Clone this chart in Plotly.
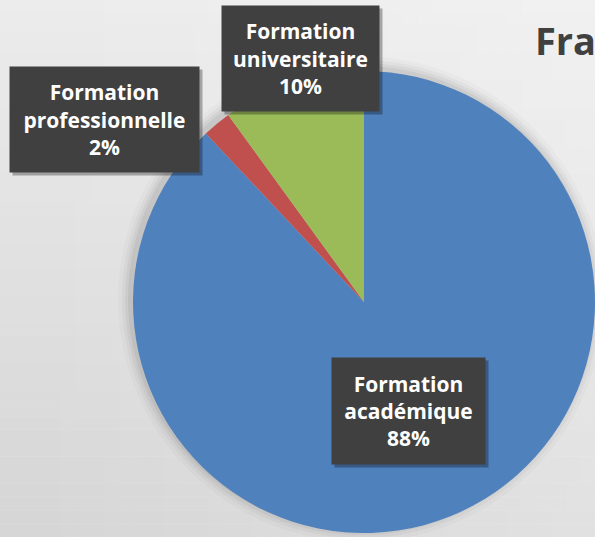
import plotly.graph_objects as go

# data
categories = ["Formation académique", "Formation professionnelle", "Formation universitaire"]
shares = [88, 2, 10]
colors = ["#4F81BD", "#C0504D", "#9BBB59"]
title_text = "Fra"

W, H = 595, 537

# label boxes: centre (px), width, height
box_pos = [(408, 411, 151, 104), (104, 119, 187, 103), (300, 58, 155, 103)]


def px(x):
    return x / W


def py(y):
    return 1 - y / H


fig = go.Figure()
fig.add_trace(
    go.Pie(
        labels=categories,
        values=shares,
        sort=False,
        direction="clockwise",
        rotation=0,
        marker=dict(colors=colors, line=dict(width=0)),
        textinfo="none",
        hoverinfo="skip",
        showlegend=False,
        domain=dict(x=[px(133), 1.0], y=[py(535), py(69)]),
    )
)

shapes = []
# background gradient: darker toward bottom-left, lighter toward top-right
n = 40
for i in range(n):
    t = i / (n - 1)
    g = int(236 - 22 * t)
    shapes.append(dict(type="rect", xref="paper", yref="paper", x0=0, x1=1,
                       y0=1 - (i + 1) / n, y1=1 - i / n, layer="below",
                       line=dict(width=0), fillcolor=f"rgb({g},{g},{g})"))
for i in range(n):
    shapes.append(dict(type="rect", xref="paper", yref="paper", x0=i / n, x1=(i + 1) / n,
                       y0=0, y1=1, layer="below", line=dict(width=0),
                       fillcolor=f"rgba(255,255,255,{0.28 * i / (n - 1):.3f})"))

# soft shadow under the pie
cx, cy, r = 364, 302, 231
for k, op in [(12, 0.02), (8, 0.03), (5, 0.04), (2, 0.05)]:
    shapes.append(dict(type="circle", xref="paper", yref="paper", layer="below",
                       xsizemode="pixel", ysizemode="pixel",
                       xanchor=px(cx - 3), yanchor=py(cy - 3),
                       x0=-(r + k), x1=r + k, y0=-(r + k), y1=r + k,
                       line=dict(width=0), fillcolor=f"rgba(0,0,0,{op})"))

annotations = []
for name, val, (bx, by, bw, bh) in zip(categories, shares, box_pos):
    text = name.replace(" ", "<br>") + f"<br>{val}%"
    common = dict(xref="paper", yref="paper", x=px(bx), y=py(by), showarrow=False,
                  xanchor="center", yanchor="middle",
                  width=bw, height=bh, align="center", valign="middle",
                  font=dict(family="Open Sans", size=21, color="white", weight="bold"))
    # drop shadow box (no text)
    s = dict(common)
    s.update(xshift=3, yshift=-3, bgcolor="rgba(0,0,0,0.30)", text=" ")
    annotations.append(s)
    annotations.append(dict(common, text=text, bgcolor="#404040"))

annotations.append(dict(xref="paper", yref="paper", x=px(533), y=py(12),
                        xanchor="left", yanchor="top", showarrow=False, text=title_text,
                        font=dict(family="Open Sans", size=38, color="#404040", weight="bold")))

fig.update_layout(
    width=W,
    height=H,
    margin=dict(l=0, r=0, t=0, b=0),
    paper_bgcolor="#e4e4e4",
    plot_bgcolor="#e4e4e4",
    shapes=shapes,
    annotations=annotations,
)

fig.write_html("out.html", config=dict(displayModeBar=False),
               post_script="document.body.style.margin='0';document.body.style.overflow='hidden';")
